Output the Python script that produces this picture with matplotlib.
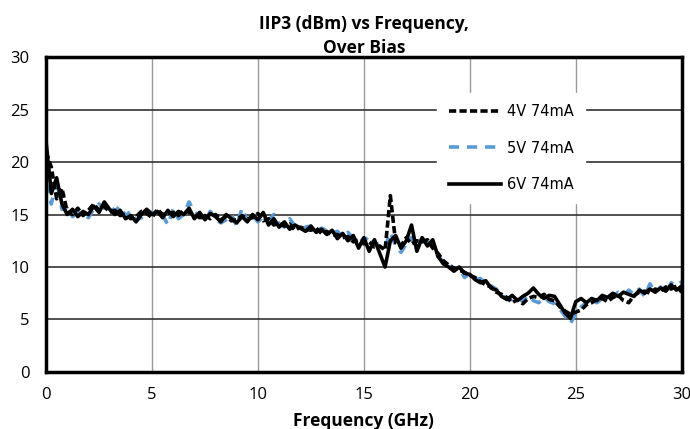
import numpy as np
import matplotlib
matplotlib.use("Agg")
import matplotlib.pyplot as plt

freq = np.arange(0, 30.001, 0.25)

v4_74 = [21.0, 19.5, 16.5, 17.5, 15.3, 15.0, 15.6, 14.9, 15.4, 16.0, 15.4, 15.8, 15.2, 15.4, 14.9, 15.0,
         14.6, 14.8, 15.3, 15.1, 14.7, 15.5, 15.0, 15.1, 15.2, 14.9, 15.4, 15.2, 15.0, 14.7, 14.9, 14.6,
         15.0, 14.5, 14.8, 14.4, 14.5, 14.9, 14.6, 14.7, 15.1, 14.4, 14.6, 14.0, 14.2, 13.9, 14.1, 13.5,
         13.8, 13.6, 13.5, 13.7, 13.2, 13.4, 13.0, 13.1, 12.8, 12.9, 12.4, 12.6, 12.2, 12.4, 11.9, 12.0,
         11.6, 16.8, 12.3, 12.0, 12.8, 12.2, 12.5, 12.4, 12.6, 11.8, 11.3, 10.6, 10.2, 9.9, 9.7, 9.5,
         9.2, 9.0, 8.6, 8.3, 8.1, 7.6, 7.4, 7.1, 6.6, 6.9, 6.5, 7.0, 7.2, 7.1, 7.4, 6.9,
         6.8, 6.2, 5.8, 5.5, 5.7, 5.9, 6.4, 6.6, 6.9, 7.0, 6.7, 7.1, 7.3, 6.8, 6.6, 7.3,
         7.6, 7.7, 7.5, 7.9, 7.7, 8.1, 7.9, 8.2, 7.6]

v5_74 = [18.0, 16.0, 18.3, 15.5, 15.6, 14.8, 15.2, 15.0, 14.7, 15.5, 16.0, 15.6, 15.9, 15.3, 15.8, 14.9,
         15.3, 14.5, 14.7, 15.4, 15.2, 14.8, 15.0, 14.0, 15.5, 14.6, 15.0, 16.2, 15.2, 14.9, 14.4, 15.3,
         14.6, 14.2, 14.5, 15.0, 13.9, 15.6, 14.4, 14.9, 14.3, 14.8, 14.4, 15.0, 14.1, 13.8, 14.6, 13.9,
         13.5, 13.8, 13.9, 13.4, 13.7, 13.5, 13.2, 13.4, 12.9, 13.3, 12.7, 12.9, 12.4, 13.0, 12.1, 12.3,
         11.9, 13.3, 12.0, 11.4, 12.2, 12.8, 11.6, 12.9, 12.4, 11.9, 11.0, 10.5, 10.4, 9.7, 9.9, 9.0,
         9.4, 8.8, 8.9, 8.4, 8.2, 7.9, 7.3, 7.0, 6.9, 7.1, 6.7, 7.3, 6.8, 6.6, 7.1, 6.7,
         6.5, 6.0, 5.3, 4.6, 5.6, 6.2, 6.6, 6.9, 6.6, 7.0, 7.3, 7.1, 7.6, 7.3, 7.8, 7.4,
         7.9, 7.2, 8.4, 7.6, 8.1, 7.5, 8.5, 8.2, 8.6]

v6_74 = [22.0, 17.0, 18.5, 16.0, 15.0, 15.5, 14.8, 15.3, 15.0, 15.8, 15.2, 16.2, 15.5, 15.0, 15.4, 14.6,
         14.9, 14.3, 15.0, 15.5, 15.0, 15.3, 14.7, 15.4, 14.8, 15.3, 15.0, 15.6, 14.6, 15.2, 14.5, 15.1,
         14.8, 14.3, 15.0, 14.6, 14.2, 14.8, 14.3, 15.0, 14.5, 15.2, 14.0, 14.6, 13.8, 14.3, 13.6, 14.0,
         13.7, 13.4, 13.9, 13.3, 13.6, 13.1, 13.5, 12.7, 13.2, 12.5, 13.0, 11.8, 12.8, 11.5, 12.6, 11.3,
         10.0, 12.5, 13.0, 11.8, 12.5, 14.0, 11.5, 12.8, 12.0, 12.6, 11.0, 10.3, 10.0, 9.6, 10.0, 9.4,
         9.3, 8.8, 8.5, 8.7, 8.0, 7.8, 7.2, 6.9, 7.3, 6.8, 7.2, 7.5, 8.0, 7.4, 7.0, 7.3,
         7.2, 6.4, 5.6, 5.1, 6.7, 7.0, 6.6, 7.0, 6.8, 7.3, 7.1, 7.5, 7.2, 7.6, 7.4, 7.2,
         7.8, 7.5, 7.9, 7.6, 8.0, 7.7, 8.3, 7.8, 8.2]

x_ticks = [0, 5, 10, 15, 20, 25, 30]
y_ticks = [0, 5, 10, 15, 20, 25, 30]

plt.rcParams['font.family'] = ['Open Sans', 'DejaVu Sans']

fig = plt.figure(figsize=(6.9, 4.29), dpi=100)
ax = fig.add_axes([0.0667, 0.1329, 0.9213, 0.7341])

ax.plot(freq, v4_74, color='black', lw=2.6, ls=(0, (2.0, 0.9)), label='4V 74mA', zorder=3)
ax.plot(freq, v5_74, color='#5B9BD5', lw=2.6, ls=(0, (2.8, 2.2)), label='5V 74mA', zorder=2)
ax.plot(freq, v6_74, color='black', lw=2.6, label='6V 74mA', zorder=4)

ax.set_xlim(0, 30)
ax.set_ylim(0, 30)
ax.set_xticks(x_ticks)
ax.set_yticks(y_ticks)
ax.tick_params(length=0, labelsize=12)
ax.tick_params(axis='x', pad=11)
ax.tick_params(axis='y', pad=12)
ax.grid(axis='y', color='#333333', lw=1.2, zorder=0)
ax.grid(axis='x', color='#999999', lw=1.0, zorder=0)
ax.set_axisbelow(True)
for s in ax.spines.values():
    s.set_linewidth(2.5)
    s.set_color('black')

ax.set_xlabel('Frequency (GHz)', fontsize=12.5, fontweight='bold', labelpad=6)
ax.set_title('IIP3 (dBm) vs Frequency,\nOver Bias', fontsize=12.5, fontweight='bold', pad=2, linespacing=1.45)

leg = ax.legend(loc='upper right', bbox_to_anchor=(0.86, 0.91), frameon=True, fancybox=False,
                edgecolor='white', facecolor='white', framealpha=1.0, prop={'family': 'DejaVu Sans', 'size': 10.5},
                handlelength=3.6, handletextpad=0.4, labelspacing=1.45, borderpad=0.8)
leg.set_zorder(10)

fig.savefig('out.png', dpi=100)
